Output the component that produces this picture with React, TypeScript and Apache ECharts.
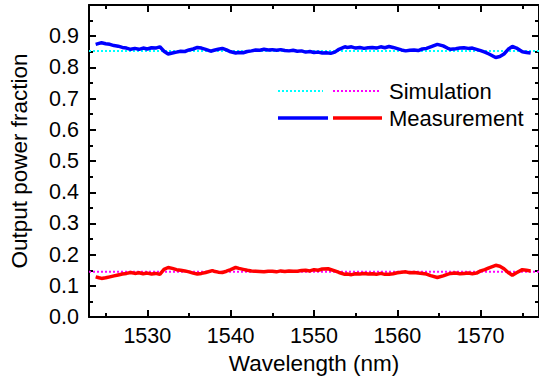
import React, { useEffect, useRef } from "react";
import * as echarts from "echarts";

const blueW = [1523.8, 1524.2, 1524.5, 1525, 1525.5, 1526, 1526.5, 1527, 1527.5, 1528, 1528.5, 1529, 1529.5, 1530, 1530.5, 1531, 1531.5, 1532, 1532.5, 1533, 1533.5, 1534, 1534.5, 1535, 1535.5, 1536, 1536.5, 1537, 1537.6, 1538, 1538.5, 1539, 1539.5, 1540, 1540.6, 1541, 1541.5, 1542, 1542.5, 1543, 1543.5, 1544, 1544.5, 1545, 1545.5, 1546, 1546.5, 1547, 1547.5, 1548, 1548.5, 1549, 1549.5, 1550, 1550.5, 1551, 1551.5, 1552, 1552.5, 1553, 1553.7, 1554, 1554.5, 1555, 1555.5, 1556, 1556.5, 1557, 1557.5, 1558, 1558.5, 1559, 1559.5, 1560, 1560.5, 1561, 1561.5, 1562, 1562.5, 1563, 1563.5, 1564, 1564.8, 1565.5, 1566, 1566.4, 1567, 1567.5, 1568, 1568.5, 1569, 1569.5, 1570, 1570.5, 1571, 1571.8, 1572.3, 1572.8, 1573.3, 1573.8, 1574.3, 1575, 1575.5, 1576];
const blueV = [0.874, 0.877, 0.879, 0.876, 0.874, 0.870, 0.868, 0.864, 0.862, 0.858, 0.861, 0.858, 0.862, 0.859, 0.863, 0.862, 0.866, 0.852, 0.843, 0.846, 0.849, 0.852, 0.851, 0.856, 0.859, 0.864, 0.862, 0.858, 0.852, 0.855, 0.858, 0.861, 0.856, 0.850, 0.846, 0.848, 0.847, 0.851, 0.853, 0.856, 0.855, 0.858, 0.856, 0.857, 0.855, 0.857, 0.854, 0.853, 0.855, 0.852, 0.853, 0.849, 0.851, 0.848, 0.849, 0.846, 0.847, 0.845, 0.849, 0.858, 0.866, 0.864, 0.866, 0.862, 0.864, 0.861, 0.863, 0.864, 0.862, 0.866, 0.863, 0.867, 0.864, 0.860, 0.856, 0.853, 0.855, 0.856, 0.854, 0.859, 0.861, 0.866, 0.874, 0.869, 0.862, 0.858, 0.860, 0.862, 0.863, 0.861, 0.862, 0.858, 0.854, 0.849, 0.843, 0.832, 0.835, 0.843, 0.858, 0.867, 0.862, 0.850, 0.848, 0.846];

const redW = [1523.8, 1524.2, 1524.5, 1525, 1525.5, 1526, 1526.5, 1527, 1527.5, 1528, 1528.5, 1529, 1529.5, 1530, 1530.5, 1531, 1531.5, 1532, 1532.5, 1533, 1533.5, 1534, 1534.5, 1535, 1535.5, 1536, 1536.5, 1537, 1537.8, 1538, 1538.5, 1539, 1539.5, 1540, 1540.6, 1541, 1541.5, 1542, 1542.5, 1543, 1543.5, 1544, 1544.5, 1545, 1545.5, 1546, 1546.5, 1547, 1547.5, 1548, 1548.5, 1549, 1549.5, 1550, 1550.5, 1551, 1551.7, 1552.5, 1553, 1553.7, 1554, 1554.5, 1555, 1555.5, 1556, 1556.5, 1557, 1557.5, 1558, 1558.5, 1559, 1559.5, 1560, 1560.5, 1561, 1561.5, 1562, 1562.5, 1563, 1563.5, 1564, 1564.8, 1565.5, 1566, 1566.4, 1567, 1567.5, 1568, 1568.5, 1569, 1569.5, 1570, 1570.5, 1571, 1571.8, 1572.3, 1572.8, 1573.3, 1573.8, 1574.3, 1575, 1575.5, 1576];
const redV = [0.129, 0.126, 0.124, 0.126, 0.129, 0.132, 0.135, 0.138, 0.140, 0.143, 0.140, 0.142, 0.139, 0.141, 0.138, 0.140, 0.137, 0.153, 0.159, 0.156, 0.152, 0.150, 0.148, 0.145, 0.141, 0.138, 0.140, 0.143, 0.149, 0.147, 0.144, 0.143, 0.147, 0.152, 0.159, 0.156, 0.153, 0.150, 0.148, 0.147, 0.146, 0.145, 0.147, 0.147, 0.145, 0.148, 0.146, 0.148, 0.147, 0.147, 0.149, 0.150, 0.148, 0.152, 0.150, 0.154, 0.155, 0.148, 0.143, 0.137, 0.138, 0.136, 0.139, 0.138, 0.140, 0.138, 0.139, 0.137, 0.140, 0.137, 0.137, 0.139, 0.142, 0.144, 0.145, 0.142, 0.143, 0.141, 0.140, 0.138, 0.133, 0.127, 0.132, 0.137, 0.140, 0.141, 0.139, 0.140, 0.141, 0.139, 0.141, 0.148, 0.152, 0.158, 0.166, 0.163, 0.155, 0.143, 0.134, 0.142, 0.152, 0.150, 0.148];

const simHigh = 0.853;
const simLow = 0.145;

const xMajor = [1530, 1540, 1550, 1560, 1570];
const xMinor = [1525, 1535, 1545, 1555, 1565, 1575];
const xMin = 1523;
const xMax = 1577;

const FONT = "Liberation Sans, Arial, sans-serif";

export default function App() {
  const ref = useRef<HTMLDivElement>(null);
  useEffect(() => {
    if (!ref.current) return;
    const chart = echarts.init(ref.current, null, { renderer: "svg" });
    const line = { lineStyle: { color: "#000", width: 2 } };
    const mkX = (pos: string, vals: number[], len: number, show: boolean, labels: boolean, name?: string) => ({
      type: "value",
      position: pos,
      min: xMin,
      max: xMax,
      axisLine: { show, onZero: false, ...line },
      axisTick: { show: true, inside: true, length: len, customValues: vals, lineStyle: { color: "#000", width: 2 } },
      axisLabel: labels
        ? { show: true, customValues: xMajor, color: "#000", fontSize: 21.5, fontFamily: FONT, margin: 8, formatter: (v: number) => String(v) }
        : { show: false },
      splitLine: { show: false },
      name: name || "",
      nameLocation: "middle",
      nameGap: 32,
      nameTextStyle: { color: "#000", fontSize: 22.5, fontFamily: FONT },
    });
    const mkY = (pos: string, labels: boolean, name?: string) => ({
      type: "value",
      position: pos,
      min: 0,
      max: 1,
      interval: 0.1,
      axisLine: { show: true, onZero: false, ...line },
      axisTick: { show: true, inside: true, length: 7, lineStyle: { color: "#000", width: 2 } },
      minorTick: { show: true, splitNumber: 2, length: 4, lineStyle: { color: "#000", width: 2 } },
      axisLabel: labels
        ? { show: true, showMaxLabel: false, color: "#000", fontSize: 21.5, fontFamily: FONT, margin: 10, formatter: (v: number) => v.toFixed(1) }
        : { show: false },
      splitLine: { show: false },
      minorSplitLine: { show: false },
      name: name || "",
      nameLocation: "middle",
      nameGap: 58,
      nameTextStyle: { color: "#000", fontSize: 22.5, fontFamily: FONT },
    });
    chart.setOption({
      animation: false,
      grid: { left: 89, right: -3, top: 5, height: 318 },
      xAxis: [
        mkX("bottom", xMajor, 7, true, true, "Wavelength (nm)"),
        mkX("bottom", xMinor, 4, false, false),
        mkX("top", xMajor, 7, true, false),
        mkX("top", xMinor, 4, false, false),
      ],
      yAxis: [mkY("left", true, "Output power fraction"), mkY("right", false)],
      series: [
        {
          type: "line",
          data: [[xMin, simHigh], [xMax, simHigh]],
          showSymbol: false,
          lineStyle: { color: "#00ffff", width: 2, type: [2, 2] },
        },
        {
          type: "line",
          data: [[xMin, simLow], [xMax, simLow]],
          showSymbol: false,
          lineStyle: { color: "#ff00ff", width: 2, type: [2, 2] },
        },
        {
          type: "line",
          data: blueW.map((w, i) => [w, blueV[i]]),
          showSymbol: false,
          lineStyle: { color: "#0000ff", width: 3.5 },
        },
        {
          type: "line",
          data: redW.map((w, i) => [w, redV[i]]),
          showSymbol: false,
          lineStyle: { color: "#ff0000", width: 3.5 },
        },
      ],
      graphic: [
        { type: "line", shape: { x1: 278, y1: 91, x2: 323, y2: 91 }, style: { stroke: "#00ffff", lineWidth: 2, lineDash: [2, 2] } },
        { type: "line", shape: { x1: 333, y1: 91, x2: 380, y2: 91 }, style: { stroke: "#ff00ff", lineWidth: 2, lineDash: [2, 2] } },
        { type: "text", x: 389, y: 91, style: { text: "Simulation", fill: "#000", fontSize: 22, fontFamily: FONT, verticalAlign: "middle" } },
        { type: "line", shape: { x1: 278, y1: 118, x2: 328, y2: 118 }, style: { stroke: "#0000ff", lineWidth: 3.5 } },
        { type: "line", shape: { x1: 333, y1: 118, x2: 382, y2: 118 }, style: { stroke: "#ff0000", lineWidth: 3.5 } },
        { type: "text", x: 389, y: 118, style: { text: "Measurement", fill: "#000", fontSize: 22, fontFamily: FONT, verticalAlign: "middle" } },
      ],
    });
    return () => chart.dispose();
  }, []);
  return (
    <div
      ref={ref}
      style={{ position: "fixed", left: 0, top: 0, width: 539, height: 380, background: "#fff" }}
    />
  );
}
